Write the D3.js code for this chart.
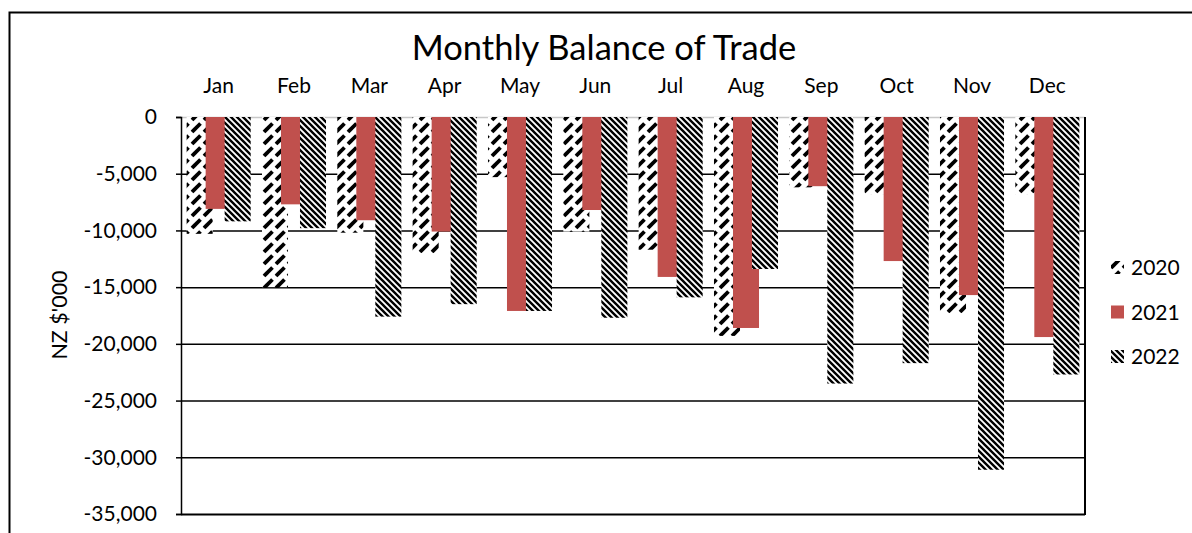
<!DOCTYPE html>
<html>
<head>
<meta charset="utf-8">
<script src="https://cdn.jsdelivr.net/npm/d3@7"></script>
<style>
  html, body { margin: 0; padding: 0; background: #fff; }
  svg { display: block; font-family: Lato, "Open Sans", sans-serif; }
</style>
</head>
<body>
<div id="chart"></div>
<script>
'use strict';

// chart data
var months = ['Jan', 'Feb', 'Mar', 'Apr', 'May', 'Jun', 'Jul', 'Aug', 'Sep', 'Oct', 'Nov', 'Dec'];
var seriesNames = ['2020', '2021', '2022'];
var values2020 = [-10300, -15000, -10200, -12000, -5300, -10100, -11700, -19300, -6200, -6800, -17300, -6800];
var values2021 = [-8100, -7700, -9100, -10100, -17100, -8200, -14100, -18600, -6100, -12700, -15700, -19400];
var values2022 = [-9200, -9800, -17600, -16500, -17100, -17700, -15900, -13400, -23500, -21700, -31100, -22700];
var yTicks = [0, -5000, -10000, -15000, -20000, -25000, -30000, -35000];

var width = 1192, height = 533;
var plot = {left: 181, right: 1085, top: 117, bottom: 514};
var overlap = 0.27;

var svg = d3.select('#chart').append('svg')
    .attr('width', width)
    .attr('height', height);

// patterns for the black & white series
var defs = svg.append('defs');

var p20 = defs.append('pattern')
    .attr('id', 'pat2020')
    .attr('patternUnits', 'userSpaceOnUse')
    .attr('width', 12).attr('height', 12);
p20.append('rect').attr('width', 12).attr('height', 12).attr('fill', '#fff');
[-12, 0, 12].forEach(function (dx) {
  [-12, 0, 12].forEach(function (dy) {
    p20.append('line')
        .attr('x1', 0 + dx).attr('y1', 12 + dy)
        .attr('x2', 8.5 + dx).attr('y2', 3.5 + dy)
        .attr('stroke', '#000')
        .attr('stroke-width', 3.8);
  });
});

var p22 = defs.append('pattern')
    .attr('id', 'pat2022')
    .attr('patternUnits', 'userSpaceOnUse')
    .attr('width', 6).attr('height', 6);
p22.append('rect').attr('width', 6).attr('height', 6).attr('fill', '#fff');
p22.append('path')
    .attr('d', 'M-1,-1 L7,7 M-4,2 L2,8 M2,-4 L8,2')
    .attr('stroke', '#000')
    .attr('stroke-width', 2.4);

var fills = {'2020': 'url(#pat2020)', '2021': '#c0504d', '2022': 'url(#pat2022)'};
var seriesValues = {'2020': values2020, '2021': values2021, '2022': values2022};

// outer chart border (runs off the right and bottom edges)
svg.append('rect')
    .attr('x', 9.5).attr('y', 12.5)
    .attr('width', 1300).attr('height', 700)
    .attr('fill', 'none')
    .attr('stroke', '#000')
    .attr('stroke-width', 2);

// scales
var x0 = d3.scaleBand()
    .domain(months)
    .range([plot.left, plot.right])
    .paddingInner(0.15)
    .paddingOuter(0.075);

var barW = x0.bandwidth() / (seriesNames.length - (seriesNames.length - 1) * overlap);

var x1 = d3.scalePoint()
    .domain(seriesNames)
    .range([0, x0.bandwidth() - barW]);

var y = d3.scaleLinear()
    .domain([0, -35000])
    .range([plot.top, plot.bottom]);

var locale = d3.formatLocale({decimal: '.', thousands: ',', grouping: [3], currency: ['$', ''], minus: '-'});
var fmt = locale.format(',');

// gridlines
var grid = svg.append('g')
    .attr('transform', 'translate(' + plot.left + ',0)')
    .call(d3.axisLeft(y).tickValues(yTicks).tickSize(-(plot.right - plot.left)).tickFormat(''));
grid.select('.domain').remove();
grid.selectAll('.tick line')
    .attr('stroke', function (d) { return d === 0 ? '#c8c8c8' : '#000'; })
    .attr('stroke-width', function (d) { return d === -35000 ? 2 : 1.5; });

// right edge of plot
svg.append('line')
    .attr('x1', plot.right).attr('x2', plot.right)
    .attr('y1', plot.top).attr('y2', plot.bottom + 1)
    .attr('stroke', '#000')
    .attr('stroke-width', 2);

// bars, drawn series by series so later ones sit on top
seriesNames.forEach(function (s) {
  svg.append('g')
      .attr('class', 'series-' + s)
    .selectAll('rect')
    .data(seriesValues[s].map(function (v, i) { return {month: months[i], value: v}; }))
    .join('rect')
      .attr('x', function (d) { return x0(d.month) + x1(s); })
      .attr('y', y(0))
      .attr('width', barW)
      .attr('height', function (d) { return y(d.value) - y(0); })
      .attr('fill', fills[s]);
});

// y axis
var yAxis = svg.append('g')
    .attr('transform', 'translate(' + plot.left + ',0)')
    .call(d3.axisLeft(y).tickValues(yTicks).tickSize(5).tickPadding(19).tickFormat(fmt));
yAxis.select('.domain')
    .attr('stroke', '#000')
    .attr('stroke-width', 1.5);
yAxis.selectAll('.tick line').attr('stroke', '#000').attr('stroke-width', 1.5);
yAxis.selectAll('.tick text')
    .attr('fill', '#000')
    .style('font-size', '21px')
    .style('font-family', 'Lato, sans-serif');

// month labels along the top
var xAxis = svg.append('g')
    .attr('transform', 'translate(0,93)')
    .call(d3.axisTop(x0).tickSize(0).tickPadding(0));
xAxis.select('.domain').remove();
xAxis.selectAll('.tick text')
    .attr('dy', 0)
    .attr('fill', '#000')
    .style('font-size', '21px')
    .style('font-family', 'Lato, sans-serif');

// title
svg.append('text')
    .attr('x', 604)
    .attr('y', 60)
    .attr('text-anchor', 'middle')
    .style('font-size', '34.5px')
    .text('Monthly Balance of Trade');

// y axis title
svg.append('text')
    .attr('transform', 'translate(67,315) rotate(-90)')
    .attr('text-anchor', 'middle')
    .style('font-size', '21.5px')
    .text("NZ $'000");

// legend
var legend = svg.append('g')
    .selectAll('g')
    .data(seriesNames)
    .join('g')
      .attr('transform', function (d, i) { return 'translate(1111,' + (268 + i * 44.5) + ')'; });
legend.append('rect')
    .attr('x', 0).attr('y', -7)
    .attr('width', 13).attr('height', 13)
    .attr('fill', function (d) { return fills[d]; });
legend.append('text')
    .attr('x', 20)
    .attr('y', 7)
    .style('font-size', '21px')
    .text(function (d) { return d; });
</script>
</body>
</html>
